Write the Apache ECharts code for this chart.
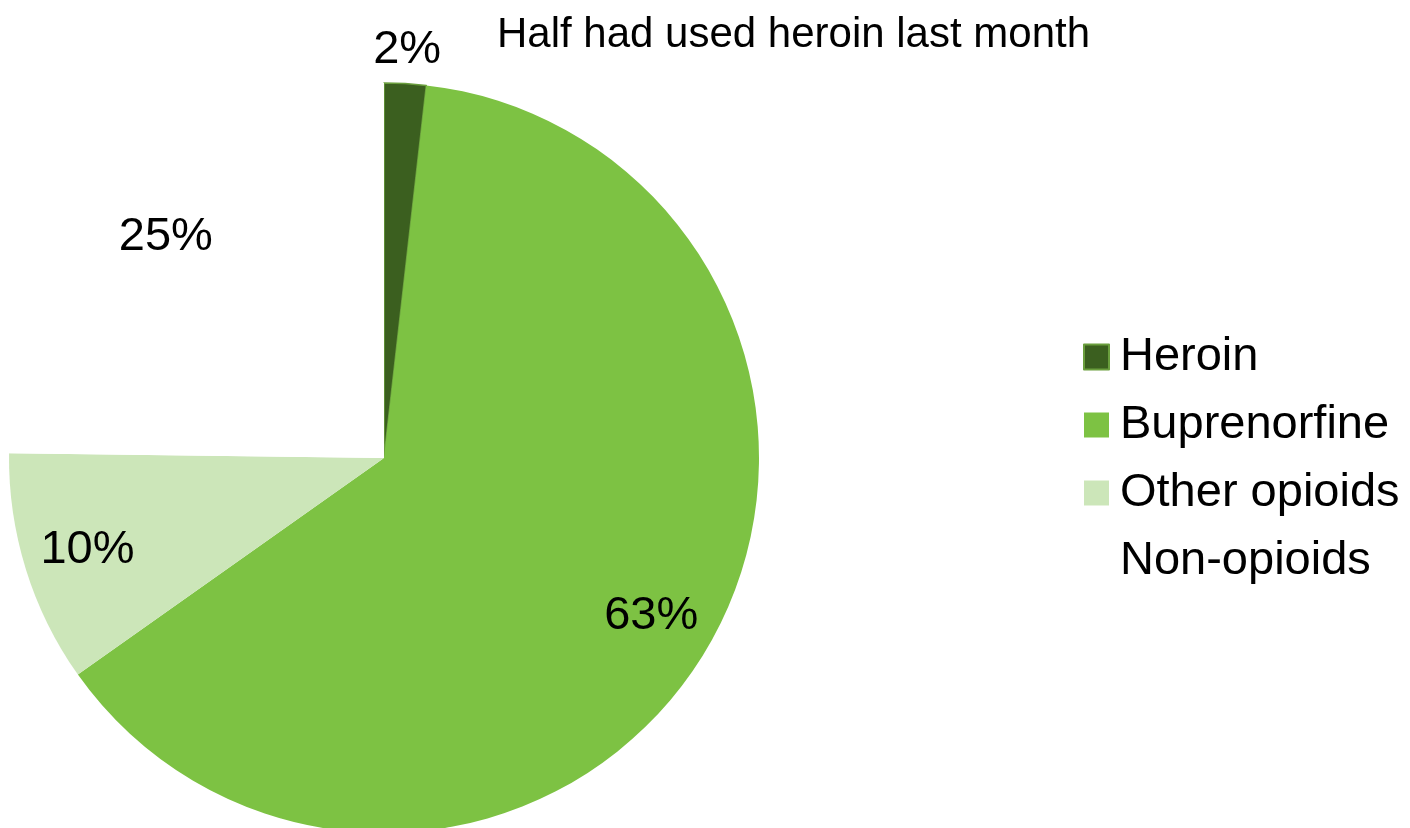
<!DOCTYPE html>
<html>
<head>
<meta charset="utf-8">
<script src="https://cdn.jsdelivr.net/npm/echarts@6/dist/echarts.min.js"></script>
<style>html,body{margin:0;padding:0;background:#fff}#c{width:1410px;height:828px}</style>
</head>
<body>
<div id="c"></div>
<script>
const categories = ['Heroin', 'Buprenorfine', 'Other opioids', 'Non-opioids'];
const values = [1.8, 63.4, 10.0, 24.8];
const labels = ['2%', '63%', '10%', '25%'];
const colors = ['#3b5f1f', '#7dc243', '#cce6b9', '#ffffff'];
const titleText = 'Half had used heroin last month';

const FONT = '"Liberation Sans", Arial, Helvetica, sans-serif';
const C = [384, 458];
const R = 375;

const mainData = categories.map((n, i) => ({
  name: n, value: values[i],
  itemStyle: i === 0 ? { color: colors[i], borderColor: '#6a9e3d', borderWidth: 1.5 } : { color: colors[i], borderWidth: 0 }
}));
const innerLabelData = categories.map((n, i) => ({
  name: n, value: values[i],
  label: { show: i !== 0, formatter: labels[i] }
}));
const outerLabelData = categories.map((n, i) => ({
  name: n, value: values[i],
  label: { show: i === 0, formatter: labels[i] }
}));
const ghost = {
  type: 'pie', center: C, startAngle: 90, clockwise: true, silent: true,
  legendHoverLink: false, avoidLabelOverlap: false,
  itemStyle: { color: 'rgba(0,0,0,0)', borderWidth: 0 },
  emphasis: { disabled: true },
  labelLine: { show: false },
  label: { position: 'inside', color: '#000', fontSize: 47, fontFamily: FONT }
};

const chart = echarts.init(document.getElementById('c'));
chart.setOption({
  backgroundColor: '#fff',
  animation: false,
  title: {
    text: titleText, left: 492, top: 9,
    textStyle: { fontSize: 42, fontWeight: 'normal', color: '#000', fontFamily: FONT }
  },
  legend: {
    orient: 'vertical', left: 1078, top: 327,
    data: categories,
    itemWidth: 25, itemHeight: 25, itemGap: 18,
    icon: 'rect',
    textStyle: { fontSize: 47, color: '#000', fontFamily: FONT, lineHeight: 50, padding: [0, 0, 0, 6] }
  },
  series: [
    {
      type: 'pie', name: 'main', center: C, radius: [0, R], startAngle: 90, clockwise: true,
      avoidLabelOverlap: false, label: { show: false }, labelLine: { show: false },
      emphasis: { scale: false },
      data: mainData
    },
    Object.assign({}, ghost, { name: 'lblIn', radius: [240, R], data: innerLabelData }),
    Object.assign({}, ghost, { name: 'lblOut', radius: [R, 437], data: outerLabelData })
  ]
});
</script>
</body>
</html>
